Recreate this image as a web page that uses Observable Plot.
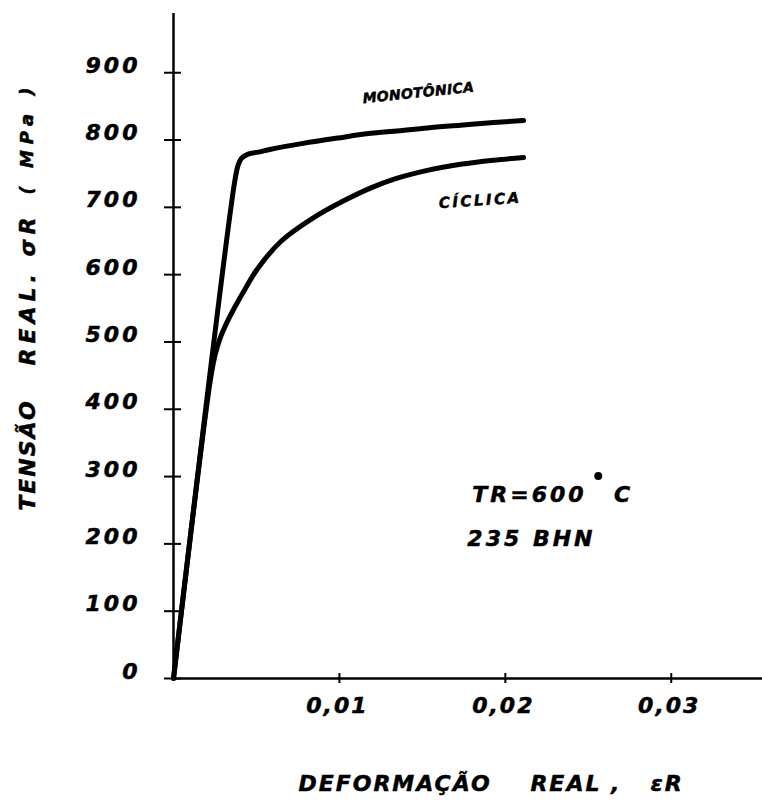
<!DOCTYPE html>
<html>
<head>
<meta charset="utf-8">
<script src="https://cdn.jsdelivr.net/npm/d3@7"></script>
<script src="https://cdn.jsdelivr.net/npm/@observablehq/plot@0.6"></script>
<style>
  body { margin: 0; background: #fff; }
  svg text { font-weight: bold; font-style: italic; stroke: #000; stroke-width: 0.5px; }
</style>
</head>
<body>
<script>
// Tick values on both axes
const xTicks = [0.01, 0.02, 0.03];
const yTicks = [0, 100, 200, 300, 400, 500, 600, 700, 800, 900];

// Monotonic true stress–strain curve (strain, MPa)
const monoStrain = [0, 0.0037, 0.0039, 0.0041, 0.0045, 0.0051, 0.0058, 0.0078, 0.0099, 0.0119, 0.0133, 0.0153, 0.0173, 0.0193, 0.0211];
const monoStress = [0, 740, 763, 773, 779, 782, 786, 795, 803, 810, 813, 818, 822, 826, 829];

// Cyclic stress–strain curve (strain, MPa)
const cycStrain = [0, 0.0022, 0.0025, 0.0028, 0.0032, 0.0037, 0.0043, 0.0051, 0.0065, 0.0084, 0.0102, 0.0119, 0.0133, 0.0153, 0.0173, 0.0193, 0.0211];
const cycStress = [0, 440, 480, 505, 528, 552, 578, 610, 650, 684, 709, 729, 742, 755, 764, 770, 774];

// Text
const curveNames = ["MONOTÔNICA", "CÍCLICA"];
const conditions = ["TR=600", "C", "235 BHN"];
const xTitle = "DEFORMAÇÃO    REAL ,   εR";
const yTitleParts = ["TENSÃO", "REAL. σR", "( MPa )"];

const mono = monoStrain.map((x, i) => ({x, y: monoStress[i]}));
const cyc = cycStrain.map((x, i) => ({x, y: cycStress[i]}));
const fmt = d => d.toFixed(2).replace(".", ",");
const blank = () => "";

// letter spacing (px) per text string; everything else uses the default
const tracking = new Map([
  [curveNames[0], 0.3], [curveNames[1], 2.5],
  [conditions[0], 3], [conditions[2], 3],
  [xTitle, 2],
  [yTitleParts[0], 2], [yTitleParts[1], 5], [yTitleParts[2], 6]
]);

const chart = Plot.plot({
  width: 762,
  height: 810,
  marginLeft: 173,
  marginRight: 0,
  marginTop: 13,
  marginBottom: 132,
  style: {
    fontFamily: "'DejaVu Sans', sans-serif",
    fontSize: "22px",
    background: "white",
    color: "black"
  },
  x: {domain: [0, 0.0355], label: null},
  y: {domain: [0, 988], label: null},
  marks: [
    // axis lines
    Plot.ruleX([0], {stroke: "black", strokeWidth: 2.5}),
    Plot.ruleY([0], {stroke: "black", strokeWidth: 2.5}),
    // ticks crossing the axes
    Plot.axisY({ticks: yTicks, tickSize: 17, dx: 8, strokeWidth: 2, tickFormat: blank, label: null}),
    Plot.axisX({ticks: xTicks, tickSize: 10, dy: -5, strokeWidth: 2, tickFormat: blank, label: null}),
    // tick labels
    Plot.axisY({ticks: yTicks, tickSize: 0, tickPadding: 33, dy: -7, fontSize: 22, label: null}),
    Plot.axisX({ticks: xTicks, tickSize: 0, tickPadding: 19, dx: -2, fontSize: 22, tickFormat: fmt, label: null}),
    // curves
    Plot.line(mono, {x: "x", y: "y", stroke: "black", strokeWidth: 5, curve: "catmull-rom", strokeLinecap: "round", strokeLinejoin: "round"}),
    Plot.line(cyc, {x: "x", y: "y", stroke: "black", strokeWidth: 5, curve: "catmull-rom", strokeLinecap: "round", strokeLinejoin: "round"}),
    // curve labels
    Plot.text([curveNames[0]], {text: d => d, x: () => 0.01476, y: () => 870, rotate: -6, fontSize: 14, fill: "black"}),
    Plot.text([curveNames[1]], {text: d => d, x: () => 0.01849, y: () => 710, rotate: -4, fontSize: 15, fill: "black"}),
    // test conditions
    Plot.text([conditions[0]], {text: d => d, x: () => 0.01801, y: () => 272, textAnchor: "start", fontSize: 22, fill: "black"}),
    Plot.dot([conditions[0]], {x: () => 0.0256, y: () => 301, r: 4, fill: "black"}),
    Plot.text([conditions[1]], {text: d => d, x: () => 0.0271, y: () => 272, fontSize: 22, fill: "black"}),
    Plot.text([conditions[2]], {text: d => d, x: () => 0.01771, y: () => 208, textAnchor: "start", fontSize: 22, fill: "black"}),
    // axis titles
    Plot.text([xTitle], {text: d => d, frameAnchor: "bottom", textAnchor: "middle", dx: 23, dy: 112, fontSize: 22, fill: "black"}),
    Plot.text([yTitleParts[0]], {text: d => d, frameAnchor: "left", textAnchor: "middle", rotate: -90, dx: -146, dy: 109, fontSize: 22, fill: "black"}),
    Plot.text([yTitleParts[1]], {text: d => d, frameAnchor: "left", textAnchor: "middle", rotate: -90, dx: -146, dy: -57, fontSize: 22, fill: "black"}),
    Plot.text([yTitleParts[2]], {text: d => d, frameAnchor: "left", textAnchor: "middle", rotate: -90, dx: -146, dy: -208, fontSize: 18, fill: "black"})
  ]
});

// letter spacing: tick labels get a fixed tracking, other strings use the table above
d3.select(chart).selectAll("text").each(function() {
  const t = this.textContent;
  let s = tracking.get(t);
  if (s == null) s = /^\d+$/.test(t) ? 3 : 2;
  this.style.letterSpacing = s + "px";
});
document.body.appendChild(chart);
</script>
</body>
</html>
